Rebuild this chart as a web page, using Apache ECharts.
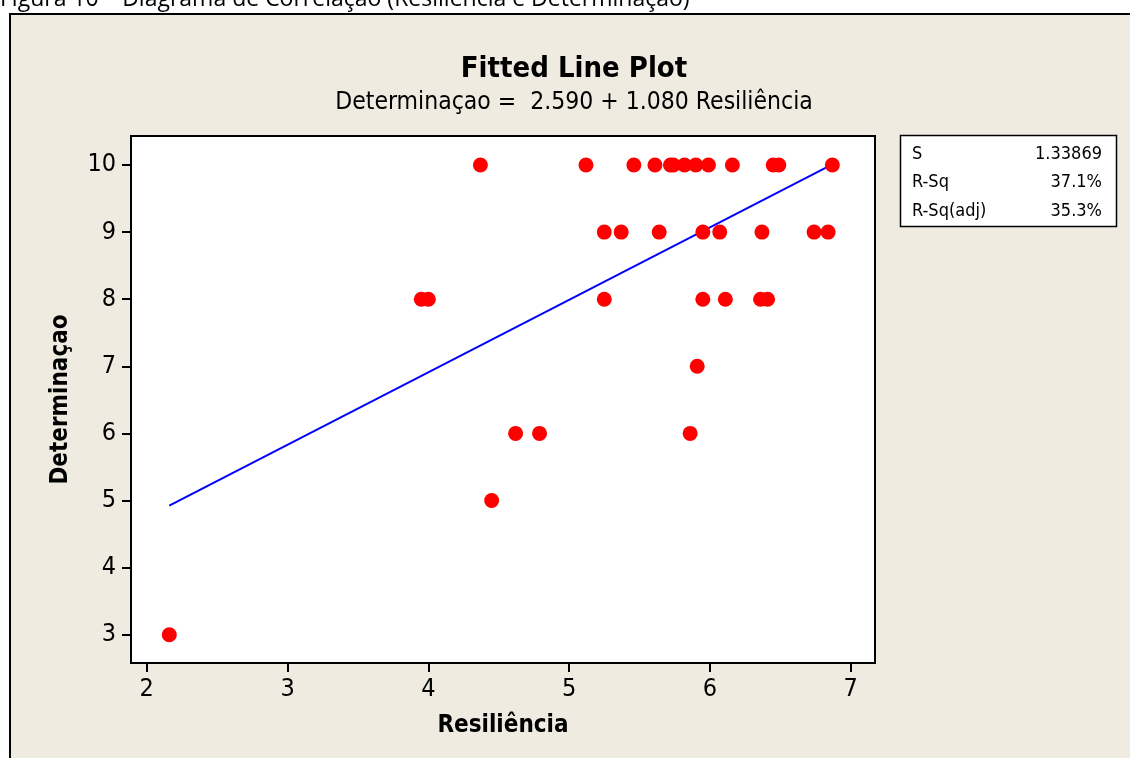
<!DOCTYPE html>
<html>
<head>
<meta charset="utf-8">
<title>Fitted Line Plot</title>
<script src="https://cdn.jsdelivr.net/npm/echarts@6/dist/echarts.min.js"></script>
<style>
  html, body { margin: 0; padding: 0; background: #ffffff; }
  #chart { width: 1130px; height: 758px; }
</style>
</head>
<body>
<div id="chart"></div>
<script>
// Resiliência (x) and Determinaçao (y) for each respondent
const resiliencia = [
  4.37, 5.12, 5.46, 5.61, 5.72, 5.74, 5.82, 5.90, 5.99, 6.16, 6.45, 6.49, 6.87,
  5.25, 5.37, 5.64, 5.95, 6.07, 6.37, 6.74, 6.84,
  3.95, 4.00, 5.25, 5.95, 6.11, 6.36, 6.41,
  5.91,
  4.62, 4.79, 5.86,
  4.45,
  2.16
];
const determinacao = [
  10, 10, 10, 10, 10, 10, 10, 10, 10, 10, 10, 10, 10,
  9, 9, 9, 9, 9, 9, 9, 9,
  8, 8, 8, 8, 8, 8, 8,
  7,
  6, 6, 6,
  5,
  3
];

// Fitted regression: Determinaçao = 2.590 + 1.080 Resiliência
const intercept = 2.590;
const slope = 1.080;

// Summary statistics of the fit
const statLabels = ['S', 'R-Sq', 'R-Sq(adj)'];
const statValues = ['1.33869', '37.1%', '35.3%'];

const xTicks = [2, 3, 4, 5, 6, 7];
const yTicks = [3, 4, 5, 6, 7, 8, 9, 10];

const points = resiliencia.map((x, i) => [x, determinacao[i]]);
const xLo = Math.min(...resiliencia);
const xHi = Math.max(...resiliencia);
const fitLine = [[xLo, intercept + slope * xLo], [xHi, intercept + slope * xHi]];

const uiFont = '"DejaVu Sans Condensed", "DejaVu Sans", Verdana, sans-serif';
const captionFont = '"Open Sans", "Liberation Sans", sans-serif';

const chart = echarts.init(document.getElementById('chart'), null, { renderer: 'canvas' });

const statGraphics = [];
statLabels.forEach((label, i) => {
  statGraphics.push({
    type: 'text', x: 912, y: 154 + i * 28.5,
    style: { text: label, fontSize: 18, fontFamily: uiFont, fill: '#000', verticalAlign: 'middle', align: 'left' }
  });
  statGraphics.push({
    type: 'text', x: 1102, y: 154 + i * 28.5,
    style: { text: statValues[i], fontSize: 18, fontFamily: uiFont, fill: '#000', verticalAlign: 'middle', align: 'right' }
  });
});

chart.setOption({
  backgroundColor: '#ffffff',
  animation: false,
  graphic: [
    // outer figure panel
    {
      type: 'rect', z: -10, silent: true,
      shape: { x: 10, y: 14, width: 1140, height: 760 },
      style: { fill: '#EFEBE1', stroke: '#000', lineWidth: 2 }
    },
    // figure caption, partly cut off by the top edge
    {
      type: 'text', x: 0, y: 11,
      style: {
        text: 'Figura 10 – Diagrama de Correlação (Resiliência e Determinação)',
        fontSize: 23, fontFamily: captionFont, fill: '#000', verticalAlign: 'bottom', align: 'left'
      }
    },
    // statistics box
    {
      type: 'rect', silent: true,
      shape: { x: 900.5, y: 135.5, width: 216, height: 91 },
      style: { fill: '#ffffff', stroke: '#000', lineWidth: 1.5 }
    },
    ...statGraphics
  ],
  title: {
    text: 'Fitted Line Plot',
    subtext: 'Determinaçao =  2.590 + 1.080 Resiliência',
    left: 569, top: 50, textAlign: 'center',
    itemGap: 6,
    textStyle: { fontFamily: uiFont, fontSize: 29, fontWeight: 'bold', color: '#000' },
    subtextStyle: { fontFamily: uiFont, fontSize: 24.5, color: '#000' }
  },
  grid: {
    left: 131, top: 136, width: 744, height: 527,
    show: true, backgroundColor: '#ffffff', borderColor: '#000', borderWidth: 2,
    containLabel: false
  },
  xAxis: {
    type: 'value', min: 1.888, max: 7.173,
    name: 'Resiliência', nameLocation: 'middle', nameGap: 51,
    nameTextStyle: { fontFamily: uiFont, fontSize: 24, fontWeight: 'bold', color: '#000' },
    axisLine: { show: true, lineStyle: { color: '#000', width: 2 } },
    axisTick: { show: true, customValues: xTicks, length: 9, inside: false, lineStyle: { color: '#000', width: 2 } },
    axisLabel: { customValues: xTicks, fontFamily: uiFont, fontSize: 25, color: '#000', margin: 14 },
    splitLine: { show: false }
  },
  yAxis: {
    type: 'value', min: 2.579, max: 10.432,
    name: 'Determinaçao', nameLocation: 'middle', nameGap: 58, nameRotate: 90,
    nameTextStyle: { fontFamily: uiFont, fontSize: 24, fontWeight: 'bold', color: '#000' },
    axisLine: { show: true, lineStyle: { color: '#000', width: 2 } },
    axisTick: { show: true, customValues: yTicks, length: 9, inside: false, lineStyle: { color: '#000', width: 2 } },
    axisLabel: { customValues: yTicks, fontFamily: uiFont, fontSize: 25, color: '#000', margin: 15 },
    splitLine: { show: false }
  },
  series: [
    {
      type: 'line', data: fitLine, symbol: 'none', z: 2,
      lineStyle: { color: '#0000FF', width: 2 }
    },
    {
      type: 'scatter', data: points, symbol: 'circle', symbolSize: 15, z: 3,
      itemStyle: { color: '#FF0000', opacity: 1 }
    }
  ]
});
</script>
</body>
</html>
